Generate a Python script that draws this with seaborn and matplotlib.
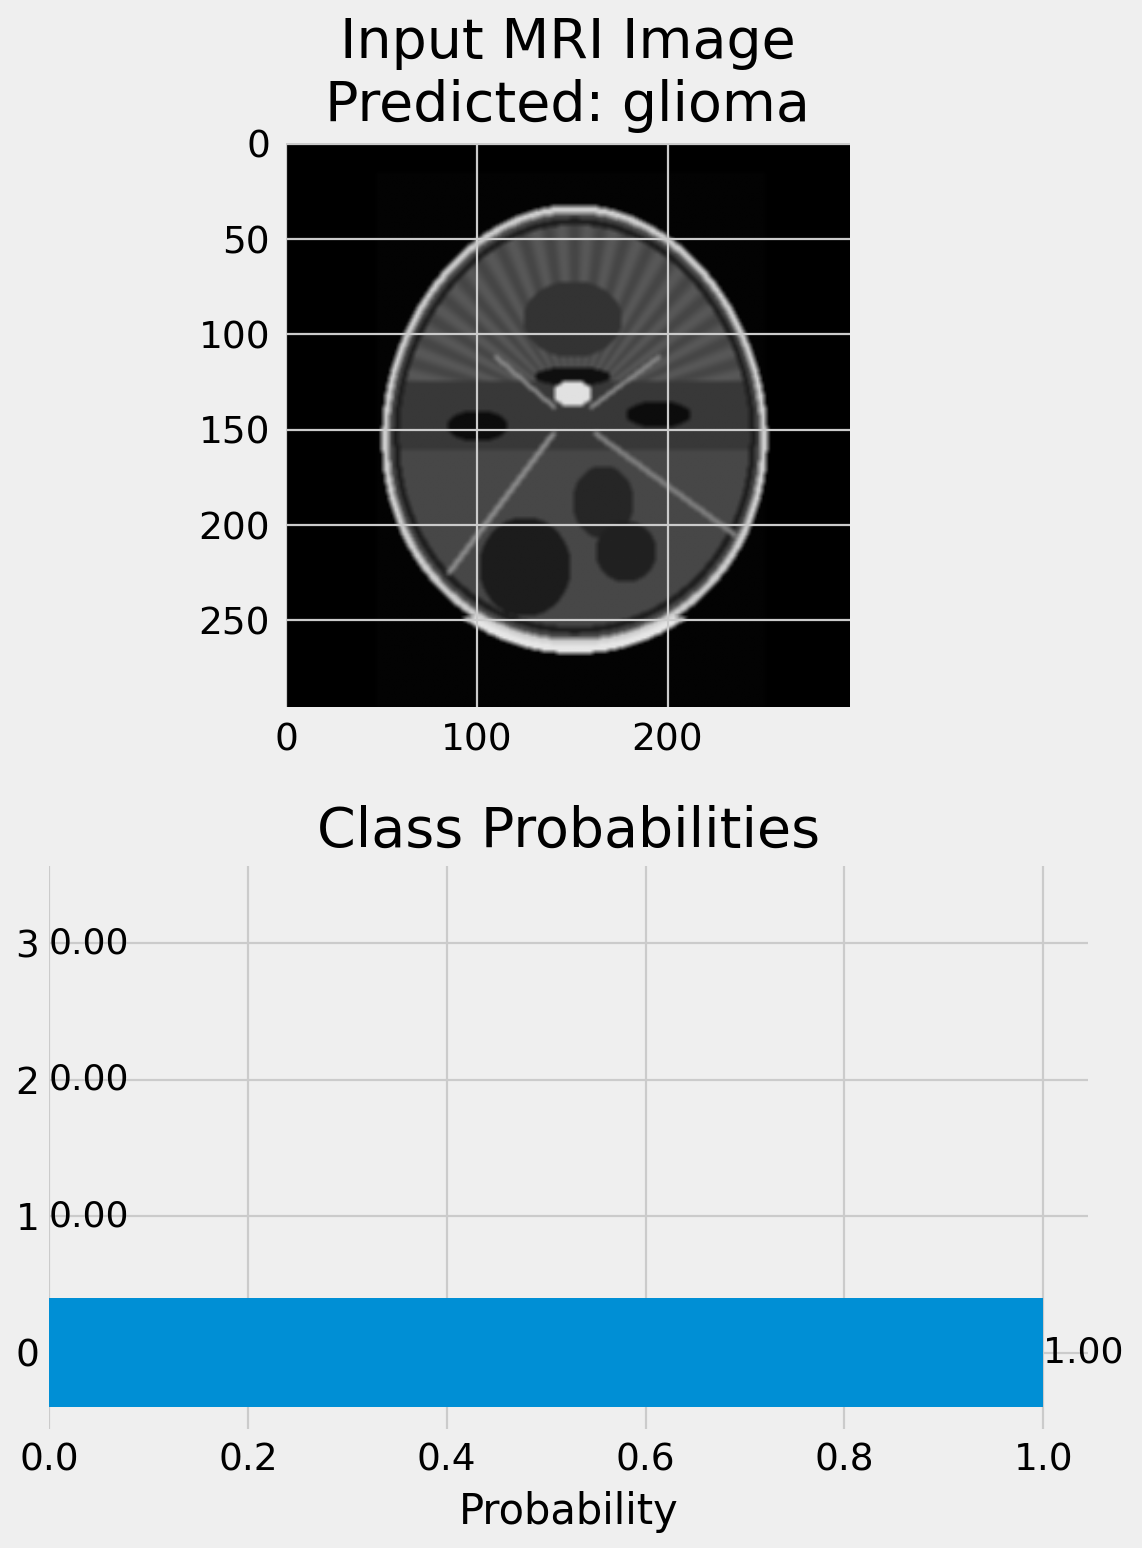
import numpy as np
import pandas as pd
import matplotlib
matplotlib.use("Agg")
import matplotlib.pyplot as plt
import seaborn as sns

# ---------------- data ----------------
class_ids = [0, 1, 2, 3]
class_probs = [1.00, 0.00, 0.00, 0.00]
predicted_label = "glioma"
prob_ticks = [0.0, 0.2, 0.4, 0.6, 0.8, 1.0]
img_xticks = [0, 100, 200]
img_yticks = [0, 50, 100, 150, 200, 250]
img_size = 296

# ---------------- schematic MRI-like slice ----------------
yy, xx = np.mgrid[0:img_size, 0:img_size].astype(float)
img = np.zeros((img_size, img_size))
img[(xx > 46) & (xx < 252) & (yy > 14)] = 0.012

cx, cy, rx, ry = 151.0, 148.0, 101.0, 116.0
taper = 1.0 - 0.06 * (cy - yy) / ry
r = np.sqrt(((xx - cx) / (rx * taper)) ** 2 + ((yy - cy) / ry) ** 2)

def ell(x0, y0, a, b):
    return ((xx - x0) / a) ** 2 + ((yy - y0) / b) ** 2 < 1.0

def seg(x0, y0, x1, y1, w):
    dx, dy = x1 - x0, y1 - y0
    t = np.clip(((xx - x0) * dx + (yy - y0) * dy) / (dx * dx + dy * dy), 0, 1)
    d = np.hypot(xx - (x0 + t * dx), yy - (y0 + t * dy))
    return d < w

brain = r < 0.95
img[brain] = 0.22
ang = np.arctan2(yy - 140, xx - cx)
front = brain & (yy < 125)
img[front] = (0.27 + 0.08 * np.sin(ang * 22) ** 2)[front]
img[ell(150, 92, 26, 20)] = 0.20
img[(r >= 0.965) & (r < 1.0)] = 0.80
img[(r >= 0.94) & (r < 0.965)] = 0.30
img[(r >= 0.91) & (r < 0.94)] = 0.12
img[(r >= 0.86) & (r < 0.88) & (yy > 175)] = 0.45
img[(r >= 0.99) & (r < 1.03) & (yy > 248)] = 0.90
img[ell(100, 148, 16, 8)] = 0.05
img[ell(195, 142, 17, 7)] = 0.05
img[ell(150, 122, 20, 5)] = 0.06
img[ell(150, 131, 10, 7)] = 0.88
cereb = brain & (yy > 160) & (r < 0.91)
img[cereb] = 0.28
img[ell(125, 222, 24, 26) & cereb] = 0.11
img[ell(166, 188, 16, 19)] = 0.15
img[ell(178, 214, 16, 16)] = 0.13
img[seg(140, 152, 85, 225, 1.4)] = 0.55
img[seg(162, 152, 235, 205, 1.4)] = 0.50
img[seg(140, 138, 110, 112, 1.1)] = 0.55
img[seg(160, 138, 195, 112, 1.1)] = 0.55

# simple smoothing
k = 1
sm = np.zeros_like(img)
cnt = 0
for dy in range(-k, k + 1):
    for dx in range(-k, k + 1):
        sm += np.roll(np.roll(img, dy, axis=0), dx, axis=1)
        cnt += 1
img = sm / cnt

# ---------------- figure ----------------
plt.style.use("fivethirtyeight")
BG = "#efefef"
W, H = 1142, 1548
fig = plt.figure(figsize=(W / 100, H / 100), dpi=100, facecolor=BG)

TICK_FS = 27
TITLE_FS = 40

# --- top: image ---
ax1 = fig.add_axes([285 / W, (H - 707) / H, 565 / W, 564 / H])
ax1.set_facecolor(BG)
ax1.imshow(img, cmap="gray", vmin=0, vmax=1, interpolation="bilinear")
ax1.set_xticks(img_xticks)
ax1.set_yticks(img_yticks)
ax1.set_axisbelow(False)
ax1.grid(True, color="#cbcbcb", linewidth=1.6)
ax1.tick_params(labelsize=TICK_FS, pad=11, length=0)
for s in ax1.spines.values():
    s.set_visible(False)
ax1.set_title(f"Input MRI Image\nPredicted: {predicted_label}", fontsize=TITLE_FS,
              pad=16, linespacing=1.2)

# --- bottom: probabilities ---
ax2 = fig.add_axes([49 / W, (H - 1429) / H, 1039 / W, 563 / H])
ax2.set_facecolor(BG)
df = pd.DataFrame({"cls": class_ids, "prob": class_probs})
sns.barplot(data=df, x="prob", y="cls", orient="y", native_scale=True,
            color="#008fd5", saturation=1, width=0.8, ax=ax2, linewidth=0)
ax2.set_axisbelow(True)
ax2.grid(True, color="#cbcbcb", linewidth=1.6)
ax2.set_xlim(0, 1.045)
ax2.set_ylim(-0.56, 3.565)
ax2.set_xticks(prob_ticks)
ax2.set_xticklabels([f"{t:.1f}" for t in prob_ticks])
ax2.set_yticks(class_ids)
ax2.set_yticklabels([str(c) for c in class_ids])
ax2.tick_params(axis="x", labelsize=TICK_FS, pad=10, length=0)
ax2.tick_params(axis="y", labelsize=TICK_FS, pad=7, length=0)
for s in ax2.spines.values():
    s.set_visible(False)
for c, p in zip(class_ids, class_probs):
    ax2.text(p, c, f"{p:.2f}", va="center", ha="left", fontsize=26)
ax2.set_xlabel("Probability", fontsize=30, labelpad=9)
ax2.set_ylabel("")
ax2.set_title("Class Probabilities", fontsize=TITLE_FS, pad=14)

fig.savefig("out.png", dpi=100, facecolor=BG)
